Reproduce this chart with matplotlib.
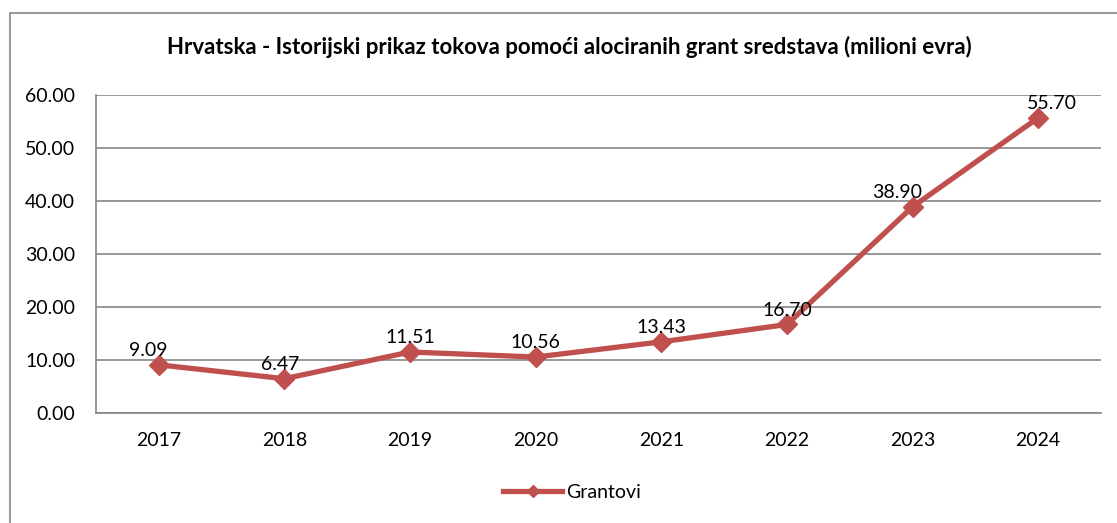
import matplotlib.pyplot as plt
from matplotlib.patches import Rectangle

years = ['2017', '2018', '2019', '2020', '2021', '2022', '2023', '2024']
grantovi = [9.09, 6.47, 11.51, 10.56, 13.43, 16.70, 38.90, 55.70]
label_shift = [-11, -4, 0, 0, 0, 0, -15, 14]  # horizontal nudge of value labels, px

line_color = '#C0504D'
grid_color = '#868686'

plt.rcParams['font.family'] = ['Lato', 'DejaVu Sans']

fig = plt.figure(figsize=(11.17, 5.23), dpi=100)
ax = fig.add_axes([96 / 1117, 1 - 413 / 523, 1005 / 1117, 318 / 523])

# outer chart border
fig.patches.append(Rectangle((10 / 1117, -0.1), 1.2, 1 - 13 / 523 + 0.1,
                             transform=fig.transFigure, fill=False,
                             edgecolor=grid_color, linewidth=1.2))

x = list(range(len(years)))
ax.plot(x, grantovi, color=line_color, linewidth=3.8, marker='D',
        markersize=10, label='Grantovi', zorder=3)

for i, v in enumerate(grantovi):
    ax.annotate(f'{v:.2f}', (i, v), xytext=(label_shift[i] * 0.72, 4),
                textcoords='offset points', ha='center', va='bottom',
                fontsize=14)

ax.set_xlim(-0.5, len(years) - 0.5)
ax.set_ylim(0, 60)
ax.set_yticks(range(0, 61, 10))
ax.set_yticklabels([f'{t:.2f}' for t in range(0, 61, 10)], fontsize=14)
ax.set_xticks(x)
ax.set_xticklabels(years, fontsize=14)
ax.tick_params(axis='both', length=0)
ax.tick_params(axis='y', pad=15)
ax.tick_params(axis='x', pad=14)

ax.grid(axis='y', color=grid_color, linewidth=1.2)
ax.set_axisbelow(True)
for side in ['top', 'right']:
    ax.spines[side].set_visible(False)
for side in ['left', 'bottom']:
    ax.spines[side].set_color(grid_color)
    ax.spines[side].set_linewidth(1.2)

fig.text(569 / 1117, 1 - 47 / 523,
         'Hrvatska - Istorijski prikaz tokova pomoći alociranih grant sredstava (milioni evra)',
         ha='center', va='center', fontsize=16, fontweight='bold')

fig.legend(loc='center', bbox_to_anchor=(572 / 1117, 1 - 492 / 523),
           frameon=False, fontsize=14, handlelength=3.0, handletextpad=0.2,
           markerscale=0.6)

fig.savefig('out.png', dpi=100)
